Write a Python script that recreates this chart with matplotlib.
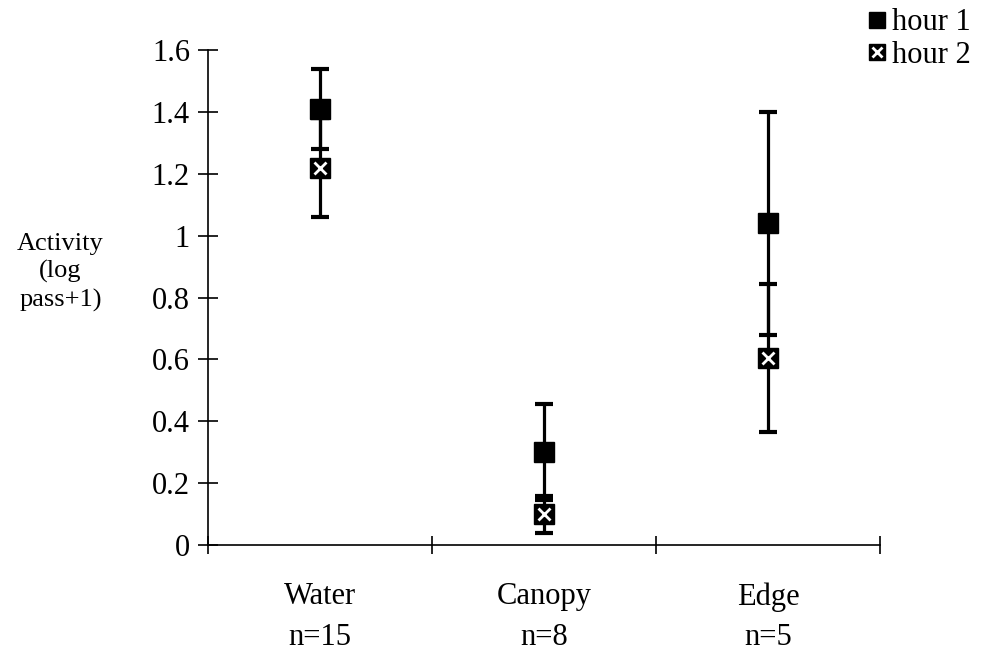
import matplotlib
matplotlib.use("Agg")
import matplotlib.pyplot as plt
from matplotlib.legend_handler import HandlerTuple
import numpy as np

plt.rcParams.update({
    "font.family": ["Liberation Serif", "DejaVu Serif"],
    "font.size": 22,
})

habitats = ["Water", "Canopy", "Edge"]
sample_sizes = [15, 8, 5]
hour1_mean = [1.41, 0.30, 1.04]
hour1_err = [0.13, 0.155, 0.36]
hour2_mean = [1.22, 0.10, 0.605]
hour2_err = [0.16, 0.06, 0.24]
y_ticks = [0, 0.2, 0.4, 0.6, 0.8, 1, 1.2, 1.4, 1.6]

fig = plt.figure(figsize=(9.89, 6.51), dpi=100)
ax = fig.add_axes([0.2103, 0.1628, 0.6795, 0.7604])

x = np.arange(len(habitats)) + 0.5
bar_kw = dict(fmt="none", ecolor="black", elinewidth=2.3, capsize=6.5, capthick=3, zorder=2)
ax.errorbar(x, hour1_mean, yerr=hour1_err, **bar_kw)
ax.errorbar(x, hour2_mean, yerr=hour2_err, **bar_kw)

h1, = ax.plot(x, hour1_mean, "s", color="black", markersize=14, linestyle="none", zorder=3)
h2box, = ax.plot(x, hour2_mean, "s", color="black", markersize=14, linestyle="none", zorder=3)
h2x, = ax.plot(x, hour2_mean, "x", color="white", markersize=8, markeredgewidth=2,
               linestyle="none", zorder=4)

ax.set_xlim(0, 3)
ax.set_ylim(0, 1.6)
ax.set_xticks([0, 1, 2, 3])
ax.set_xticklabels([])
ax.set_yticks(y_ticks)
ax.set_yticklabels([f"{t:g}" for t in y_ticks])
ax.tick_params(axis="y", direction="inout", length=14, width=1.2, pad=6)
ax.tick_params(axis="x", direction="inout", length=13, width=1.2)
for side in ("top", "right"):
    ax.spines[side].set_visible(False)
for side in ("left", "bottom"):
    ax.spines[side].set_linewidth(1.2)

# category names with sample sizes under the axis
for xi, name, n in zip(x, habitats, sample_sizes):
    ax.text(xi, -0.168, name, ha="center", va="center", clip_on=False)
    ax.text(xi, -0.30, f"n={n}", ha="center", va="center", clip_on=False)

fig.text(0.061, 0.582, "Activity\n(log\npass+1)", ha="center", va="center",
         fontsize=19, linespacing=1.3)

ax.legend([h1, (h2box, h2x)], ["hour 1", "hour 2"],
          handler_map={tuple: HandlerTuple(ndivide=1)},
          loc="upper left", bbox_to_anchor=(0.877, 0.987), bbox_transform=fig.transFigure,
          frameon=False, handlelength=0.6, handletextpad=0.2, borderaxespad=0,
          borderpad=0, labelspacing=0.1, markerscale=0.85)

fig.savefig("out.png", dpi=100, facecolor="white")
